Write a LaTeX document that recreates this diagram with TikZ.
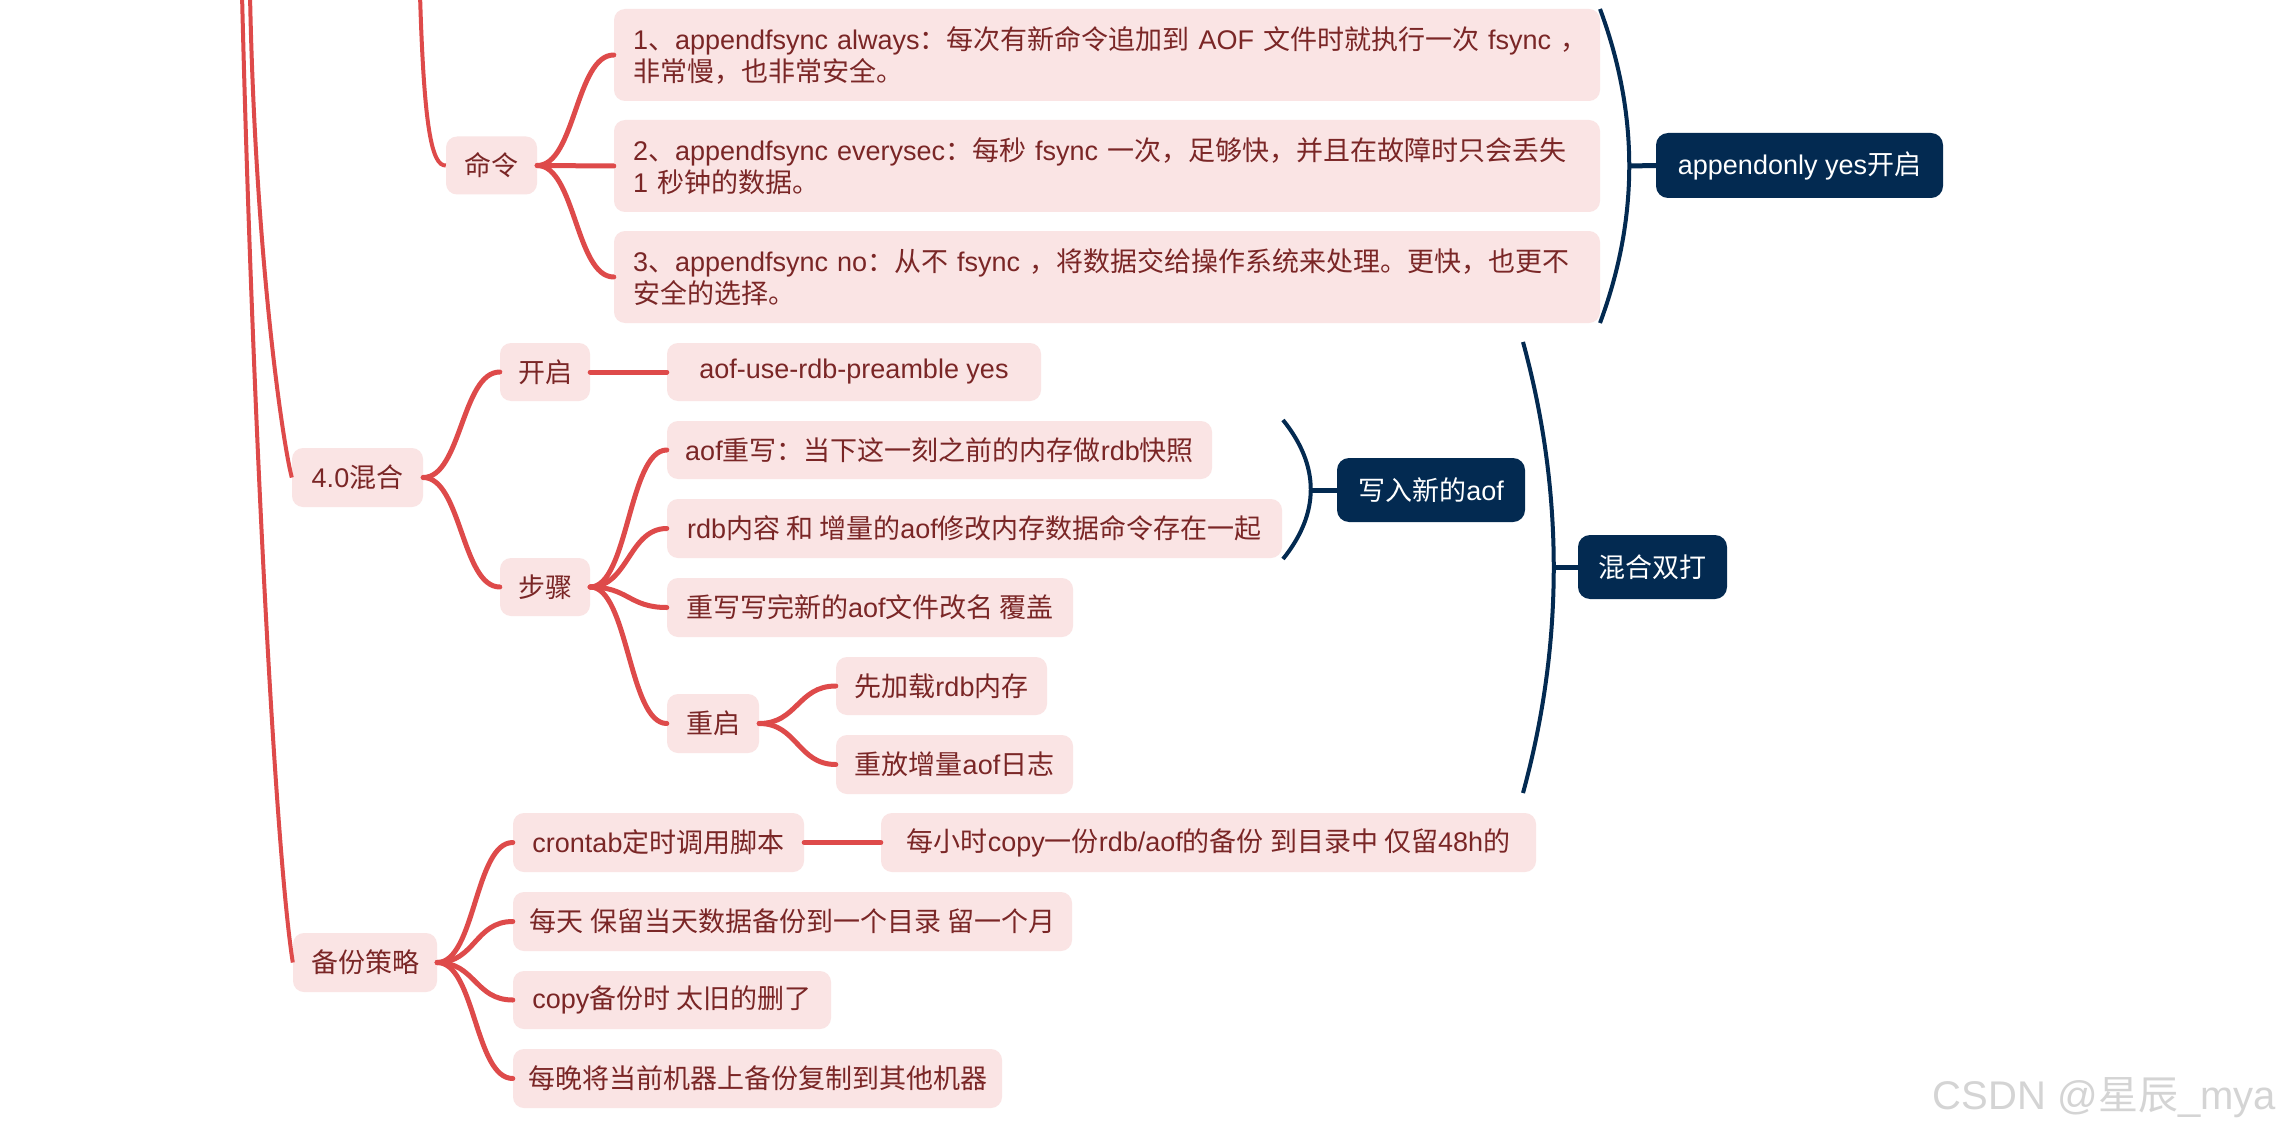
\documentclass[tikz,border=0pt]{standalone}
\usepackage{fontspec}
\setmainfont{Liberation Sans}
\newfontfamily\latinfont{Liberation Sans}
\newfontfamily\cjkfont{Noto Sans CJK SC}
\XeTeXinterchartokenstate=1
\newXeTeXintercharclass\CJKcls
\newcount\mycnt
\mycnt="3000
\loop
  \XeTeXcharclass\mycnt=\CJKcls
  \ifnum\mycnt<"9FFF
  \advance\mycnt by 1
\repeat
\mycnt="FF00
\loop
  \XeTeXcharclass\mycnt=\CJKcls
  \ifnum\mycnt<"FFEF
  \advance\mycnt by 1
\repeat
\XeTeXinterchartoks 0 \CJKcls = {\cjkfont}
\XeTeXinterchartoks 4095 \CJKcls = {\cjkfont}
\XeTeXinterchartoks \CJKcls 0 = {\latinfont}
\XeTeXinterchartoks 4095 0 = {\latinfont}
\definecolor{pinkfill}{RGB}{250,228,228}
\definecolor{leaftext}{RGB}{122,38,38}
\definecolor{linkred}{RGB}{222,74,74}
\definecolor{navy}{RGB}{3,42,81}
\definecolor{wmgray}{RGB}{212,212,212}
\begin{document}
\begin{tikzpicture}[x=1pt,y=-1pt,
  leaf/.style={fill=pinkfill,text=leaftext,rounded corners=11pt,inner sep=0pt,
    font=\fontsize{27}{32}\selectfont},
  navybox/.style={fill=navy,text=white,rounded corners=12pt,inner sep=0pt,
    font=\fontsize{27}{32}\selectfont},
  link/.style={draw=linkred,line width=5pt,line cap=round},
  trunk/.style={draw=linkred,line width=4pt},
  bracket/.style={draw=navy,line width=4pt},
  navylink/.style={draw=navy,line width=5pt}]
\useasboundingbox (0,0) rectangle (2280,1134);
\fill[white] (0,0) rectangle (2280,1134);

% ---- 命令 group
\node[leaf,minimum width=91pt,minimum height=58pt] (mingling) at (491.5,165.5) {命令};
\node[leaf,minimum width=986pt,minimum height=92pt,text width=948pt,align=left] (b1) at (1107,55)
  {\mbox{1、appendfsync always：每次有新命令追加到 AOF 文件时就执行一次 fsync ，}\\\mbox{非常慢，也非常安全。}};
\node[leaf,minimum width=986pt,minimum height=92pt,text width=948pt,align=left] (b2) at (1107,166)
  {\mbox{2、appendfsync everysec：每秒 fsync 一次，足够快，并且在故障时只会丢失}\\\mbox{1 秒钟的数据。}};
\node[leaf,minimum width=986pt,minimum height=92pt,text width=948pt,align=left] (b3) at (1107,277)
  {\mbox{3、appendfsync no：从不 fsync ，将数据交给操作系统来处理。更快，也更不}\\\mbox{安全的选择。}};
\node[navybox,minimum width=287pt,minimum height=65pt] (aon) at (1799.5,165.5) {appendonly yes开启};

% ---- 4.0混合 group
\node[leaf,minimum width=131pt,minimum height=59pt] (hunhe) at (357.5,477.5) {4.0混合};
\node[leaf,minimum width=90pt,minimum height=58pt] (kaiqi) at (545,372) {开启};
\node[leaf,minimum width=374pt,minimum height=58pt] (pre) at (854,372) {aof-use-rdb-preamble yes};
\node[leaf,minimum width=90pt,minimum height=58pt] (buzhou) at (545,587) {步骤};
\node[leaf,minimum width=545pt,minimum height=58pt] (s1) at (939.5,450) {aof重写：当下这一刻之前的内存做rdb快照};
\node[leaf,minimum width=615pt,minimum height=59pt] (s2) at (974.5,528.5) {rdb内容 和 增量的aof修改内存数据命令存在一起};
\node[leaf,minimum width=406pt,minimum height=59pt] (s3) at (870,607.5) {重写写完新的aof文件改名 覆盖};
\node[leaf,minimum width=92pt,minimum height=59pt] (chongqi) at (713,723.5) {重启};
\node[leaf,minimum width=211pt,minimum height=58pt] (r1) at (941.5,686) {先加载rdb内存};
\node[leaf,minimum width=237pt,minimum height=59pt] (r2) at (954.5,764.5) {重放增量aof日志};
\node[navybox,minimum width=188pt,minimum height=64pt] (xieru) at (1431,490) {写入新的aof};
\node[navybox,minimum width=149pt,minimum height=64pt] (shuangda) at (1652.5,567) {混合双打};

% ---- 备份策略 group
\node[leaf,minimum width=144pt,minimum height=59pt] (beifen) at (365,962.5) {备份策略};
\node[leaf,minimum width=291pt,minimum height=59pt] (c1) at (658.5,842.5) {crontab定时调用脚本};
\node[leaf,minimum width=655pt,minimum height=59pt] (c1b) at (1208.5,842.5) {每小时copy一份rdb/aof的备份 到目录中 仅留48h的};
\node[leaf,minimum width=559pt,minimum height=59pt] (c2) at (792.5,921.5) {每天 保留当天数据备份到一个目录 留一个月};
\node[leaf,minimum width=318pt,minimum height=58pt] (c3) at (672,1000) {copy备份时 太旧的删了};
\node[leaf,minimum width=489pt,minimum height=59pt] (c4) at (757.5,1078.5) {每晚将当前机器上备份复制到其他机器};

% ---- free ends of trunks
\coordinate (topA) at (242,-6);
\coordinate (topB) at (250,-6);
\coordinate (topC) at (420,-6);
\draw[trunk] (topC) .. controls (424,130) and (432,166) .. (mingling.west);
\draw[trunk] (topB) .. controls (255,250) and (282,440) .. (hunhe.west);
\draw[trunk] (topA) .. controls (252,400) and (275,850) .. (beifen.west);

% ---- red links
\foreach \c in {b1,b2,b3}
  \draw[link] (mingling.east) .. controls +(38,0) and +(-38,0) .. (\c.west);
\foreach \c in {kaiqi,buzhou}
  \draw[link] (hunhe.east) .. controls +(38,0) and +(-38,0) .. (\c.west);
\draw[link] (kaiqi.east) -- (pre.west);
\foreach \c in {s1,s2,s3,chongqi}
  \draw[link] (buzhou.east) .. controls +(38,0) and +(-38,0) .. (\c.west);
\foreach \c in {r1,r2}
  \draw[link] (chongqi.east) .. controls +(38,0) and +(-38,0) .. (\c.west);
\foreach \c in {c1,c2,c3,c4}
  \draw[link] (beifen.east) .. controls +(38,0) and +(-38,0) .. (\c.west);
\draw[link] (c1.east) -- (c1b.west);

% ---- navy brackets
\coordinate (k1a) at (1600,9);  \coordinate (k1m) at (1629,166); \coordinate (k1b) at (1600,323);
\draw[bracket] (k1a) .. controls (1639,114) and (1639,218) .. (k1b);
\draw[navylink] (k1m) -- (aon.west);
\coordinate (k2a) at (1283,420); \coordinate (k2m) at (1311,490); \coordinate (k2b) at (1283,559);
\draw[bracket] (k2a) .. controls (1320,466) and (1320,513) .. (k2b);
\draw[navylink] (k2m) -- (xieru.west);
\coordinate (k3a) at (1523,342); \coordinate (k3m) at (1554,567); \coordinate (k3b) at (1523,793);
\draw[bracket] (k3a) .. controls (1564,492) and (1564,643) .. (k3b);
\draw[navylink] (k3m) -- (shuangda.west);

% ---- watermark
\node[anchor=base east,text=wmgray,inner sep=0pt,font=\fontsize{40}{40}\selectfont] (wm) at (2276,1109)
  {CSDN @星辰\_mya};
\end{tikzpicture}
\end{document}
